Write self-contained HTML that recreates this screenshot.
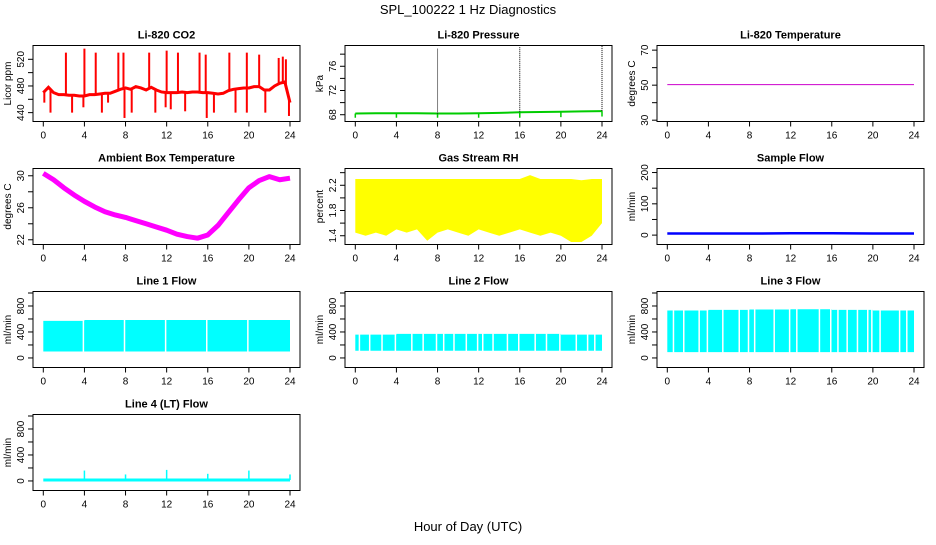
<!DOCTYPE html>
<html><head><meta charset="utf-8"><style>
body{margin:0;background:#fff}
svg text{font-family:"Liberation Sans",Arial,sans-serif}
</style></head><body>
<svg id="chart" width="936" height="540" viewBox="0 0 936 540" xmlns="http://www.w3.org/2000/svg">
<text x="468" y="14" font-size="13" text-anchor="middle">SPL_100222  1 Hz Diagnostics</text>
<text x="468" y="531" font-size="13" text-anchor="middle">Hour of Day (UTC)</text>
</svg>
<script>
// ---- data ----
const xTicks=[0,4,8,12,16,20,24];
const co2Hours=[0,0.5,1,1.5,2,2.5,3,3.5,4,4.5,5,5.5,6,6.5,7,7.5,8,8.5,9,9.5,10,10.5,11,11.5,12,12.5,13,13.5,14,14.5,15,15.5,16,16.5,17,17.5,18,18.5,19,19.5,20,20.5,21,21.5,22,22.5,23,23.5,24];
const co2Base=[470,478,470,467,467,466,466,465,465,467,467,468,469,469,472,475,477,475,479,477,474,478,474,471,470,470,470,471,470,471,471,470,470,469,468,469,473,475,476,477,477,479,479,474,474,480,484,486,455];
const co2UpHours=[2.2,4.0,5.1,7.3,7.8,10.3,12.0,13.1,15.2,15.8,18.1,19.8,21.0,22.9,23.3,23.6];
const co2UpValues=[530,536,530,530,530,530,533,530,530,527,530,530,527,522,524,520];
const co2DownHours=[0.1,0.7,2.8,3.9,5.7,6.3,7.9,8.6,10.9,11.9,12.4,13.8,15.9,16.6,18.7,19.8,21.6,23.9];
const co2DownValues=[455,440,440,448,440,455,432,440,440,448,445,442,432,440,440,440,440,435];
const presHours=[0,2,4,6,8,10,12,14,16,18,20,22,24];
const presBase=[68.2,68.25,68.25,68.25,68.2,68.2,68.25,68.3,68.4,68.45,68.5,68.55,68.6];
const presUpHours=[8,16,24];
const presUpValues=[78.9,79.2,79.5];
const presDownHours=[0,4,8,12,16,20,24];
const presDownValues=[67.5,67.5,67.5,67.5,67.5,67.6,67.7];
const tempHours=[0,24];
const tempValues=[50.3,50.3];
const ambHours=[0,1,2,3,4,5,6,7,8,9,10,11,12,13,14,15,16,17,18,19,20,21,22,23,24];
const ambValues=[30.3,29.5,28.5,27.6,26.8,26.1,25.5,25.1,24.8,24.4,24.0,23.6,23.2,22.7,22.4,22.2,22.6,23.8,25.4,27.0,28.5,29.4,29.9,29.5,29.7];
const rhHours=[0,1,2,3,4,5,6,7,8,9,10,11,12,13,14,15,16,17,18,19,20,21,22,23,24];
const rhHigh=[2.3,2.3,2.3,2.3,2.3,2.3,2.3,2.3,2.3,2.3,2.3,2.3,2.3,2.3,2.3,2.3,2.3,2.36,2.3,2.3,2.3,2.3,2.28,2.3,2.3];
const rhLow=[1.45,1.4,1.45,1.4,1.5,1.45,1.5,1.32,1.45,1.5,1.45,1.4,1.5,1.45,1.4,1.45,1.5,1.45,1.4,1.45,1.4,1.3,1.3,1.4,1.6];
const sfHours=[0,4,8,12,16,20,24];
const sfValues=[5,5,5,6,6,5,5];
const l1Hours=[0,4,8,12,16,20,24];
const l1High=[570,585,585,585,585,585,490];
const l1Low=[100,100,100,100,100,100,300];
const l1Gaps=[3.9,7.9,11.9,15.9,19.9];
const l2Hours=[0,4,8,12,16,20,24];
const l2High=[360,370,370,370,370,360,300];
const l2Low=[110,110,110,110,110,110,250];
const l2Gaps=[0.4,1.4,2.6,3.9,5.5,6.6,7.9,8.6,9.6,10.8,11.9,12.4,13.4,14.8,15.9,17.5,18.6,19.9,21.5,22.6,23.3];
const l3Hours=[0,4,8,12,16,20,24];
const l3High=[730,740,745,750,740,730,640];
const l3Low=[90,90,90,90,90,90,560];
const l3Gaps=[0.6,1.6,3.1,3.9,5.4,7.0,7.9,8.5,10.4,11.9,12.6,14.8,15.9,16.6,17.5,18.5,19.5,19.9,20.7,22.6,23.3];
const l4Hours=[0,24];
const l4Base=[15,15];
const l4SpikeHours=[4,8,12,16,20,24];
const l4SpikeValues=[160,100,170,110,160,100];

const svg=document.getElementById('chart');
const NS='http://www.w3.org/2000/svg';
const colL=[33,345,657], rowT=[45.5,168.5,291.5,414.5], W=267, H=76;
function mk(tag,attrs,parent){const e=document.createElementNS(NS,tag);for(const k in attrs)e.setAttribute(k,attrs[k]);(parent||svg).appendChild(e);return e;}
function panel(c,r,title,ylab,top,bot,ticks,labels,name){
  const L=colL[c],T=rowT[r];
  const g=mk('g',{});
  
  
  const xs=h=>L+10.3+h*246.7/24;
  const ys=v=>T+(top-v)/(top-bot)*H;
  const t=mk('text',{x:L+W/2,y:T-7,'font-size':11,'font-weight':'bold','text-anchor':'middle'},g);t.textContent=title;
  
  
  const box=mk('rect',{x:L,y:T,width:W,height:H,fill:'none',stroke:'#000','stroke-width':1},g);
  
  
  const ax=mk('g',{},g);
  
  
  mk('line',{x1:xs(0),x2:xs(24),y1:T+H,y2:T+H,stroke:'#000'},ax);
  xTicks.forEach(v=>{mk('line',{x1:xs(v),x2:xs(v),y1:T+H,y2:T+H+5,stroke:'#000'},ax);
    const tx=mk('text',{x:xs(v),y:T+H+17,'font-size':10,'text-anchor':'middle'},ax);tx.textContent=v;});
  const ay=mk('g',{},g);
  
  
  mk('line',{x1:L,x2:L,y1:ys(ticks[0]),y2:ys(ticks[ticks.length-1]),stroke:'#000'},ay);
  ticks.forEach(v=>{mk('line',{x1:L-5,x2:L,y1:ys(v),y2:ys(v),stroke:'#000'},ay);});
  labels.forEach(v=>{const tx=mk('text',{x:L-9,y:ys(v),'font-size':10,'text-anchor':'middle',transform:`rotate(-90 ${L-9} ${ys(v)})`},ay);tx.textContent=v;});
  const yl=mk('text',{x:L-22,y:T+H/2,'font-size':10,'text-anchor':'middle',transform:`rotate(-90 ${L-22} ${T+H/2})`},g);yl.textContent=ylab;
  
  
  const s=mk('g',{},g);
  
  
  return {xs,ys,s};
}
function poly(p,hs,vs,attrs){return mk('polyline',Object.assign({points:hs.map((h,i)=>p.xs(h)+','+p.ys(vs[i])).join(' '),fill:'none'},attrs),p.s);}
function vline(p,h,v0,v1,attrs){return mk('line',Object.assign({x1:p.xs(h),x2:p.xs(h),y1:p.ys(v0),y2:p.ys(v1)},attrs),p.s);}
function baseAt(hs,vs,h){for(let i=0;i<hs.length-1;i++){if(h>=hs[i]&&h<=hs[i+1]){const f=(h-hs[i])/(hs[i+1]-hs[i]);return vs[i]+f*(vs[i+1]-vs[i]);}}return vs[vs.length-1];}
function stepIdx(hs,h){let i=0;while(i<hs.length-2&&h>=hs[i+1])i++;return i;}
function band(p,hs,hi,lo,gaps,color){
  const pts=[];
  for(let i=0;i<hs.length-1;i++){pts.push([hs[i],hi[i]],[hs[i+1],hi[i]]);}
  const ptsL=[];
  for(let i=hs.length-2;i>=0;i--){ptsL.push([hs[i+1],lo[i]],[hs[i],lo[i]]);}
  mk('polygon',{points:pts.concat(ptsL).map(q=>p.xs(q[0])+','+p.ys(q[1])).join(' '),fill:color},p.s);
  gaps.forEach(h=>{const i=stepIdx(hs,h);vline(p,h,lo[i]-20,hi[i]+5,{stroke:'#fff','stroke-width':1.5});});
}

// CO2
let p=panel(0,0,'Li-820 CO2','Licor ppm',540.7,426.7,[440,460,480,500,520],[440,480,520],'co2');
poly(p,co2Hours,co2Base,{stroke:'#f00','stroke-width':3});
co2UpHours.forEach((h,i)=>vline(p,h,baseAt(co2Hours,co2Base,h),co2UpValues[i],{stroke:'#f00','stroke-width':2}));
co2DownHours.forEach((h,i)=>vline(p,h,baseAt(co2Hours,co2Base,h),co2DownValues[i],{stroke:'#f00','stroke-width':2}));
// Pressure
p=panel(1,0,'Li-820 Pressure','kPa',79.43,66.88,[68,70,72,74,76,78],[68,72,76],'pressure');
poly(p,presHours,presBase,{stroke:'#0c0','stroke-width':2});
presUpHours.forEach((h,i)=>vline(p,h,baseAt(presHours,presBase,h),presUpValues[i],{stroke:'#000','stroke-width':1,'stroke-dasharray':'1,1'}));
presDownHours.forEach((h,i)=>vline(p,h,baseAt(presHours,presBase,h),presDownValues[i],{stroke:'#0c0','stroke-width':1.5}));
// Temperature
p=panel(2,0,'Li-820 Temperature','degrees C',72.65,29.25,[30,40,50,60,70],[30,50,70],'temperature');
poly(p,tempHours,tempValues,{stroke:'#c0c','stroke-width':1});
// Ambient
p=panel(0,1,'Ambient Box Temperature','degrees C',30.91,21.41,[22,24,26,28,30],[22,26,30],'ambient');
poly(p,ambHours,ambValues,{stroke:'#f0f','stroke-width':5,'stroke-linejoin':'round'});
// RH
p=panel(1,1,'Gas Stream RH','percent',2.466,1.261,[1.4,1.6,1.8,2.0,2.2,2.4],[1.4,1.8,2.2],'rh');
{const pts=rhHours.map((h,i)=>p.xs(h)+','+p.ys(rhHigh[i])).concat(rhHours.slice().reverse().map((h,j)=>{const i=rhHours.length-1-j;return p.xs(h)+','+p.ys(rhLow[i]);}));
 mk('polygon',{points:pts.join(' '),fill:'#ff0'},p.s);}
// Sample flow
p=panel(2,1,'Sample Flow','ml/min',212.9,-30,[0,50,100,150,200],[0,100,200],'sample-flow');
poly(p,sfHours,sfValues,{stroke:'#00f','stroke-width':2.5});
// Line flows
p=panel(0,2,'Line 1 Flow','ml/min',1023,-147,[0,200,400,600,800,1000],[0,400,800],'line1-flow');
band(p,l1Hours,l1High,l1Low,l1Gaps,'#0ff');
p=panel(1,2,'Line 2 Flow','ml/min',1023,-147,[0,200,400,600,800,1000],[0,400,800],'line2-flow');
band(p,l2Hours,l2High,l2Low,l2Gaps,'#0ff');
p=panel(2,2,'Line 3 Flow','ml/min',1023,-147,[0,200,400,600,800,1000],[0,400,800],'line3-flow');
band(p,l3Hours,l3High,l3Low,l3Gaps,'#0ff');
p=panel(0,3,'Line 4 (LT) Flow','ml/min',1023,-147,[0,200,400,600,800,1000],[0,400,800],'line4-flow');
poly(p,l4Hours,l4Base,{stroke:'#0ff','stroke-width':3});
l4SpikeHours.forEach((h,i)=>vline(p,h,l4Base[0],l4SpikeValues[i],{stroke:'#0ff','stroke-width':1.5}));
</script>
</body></html>
